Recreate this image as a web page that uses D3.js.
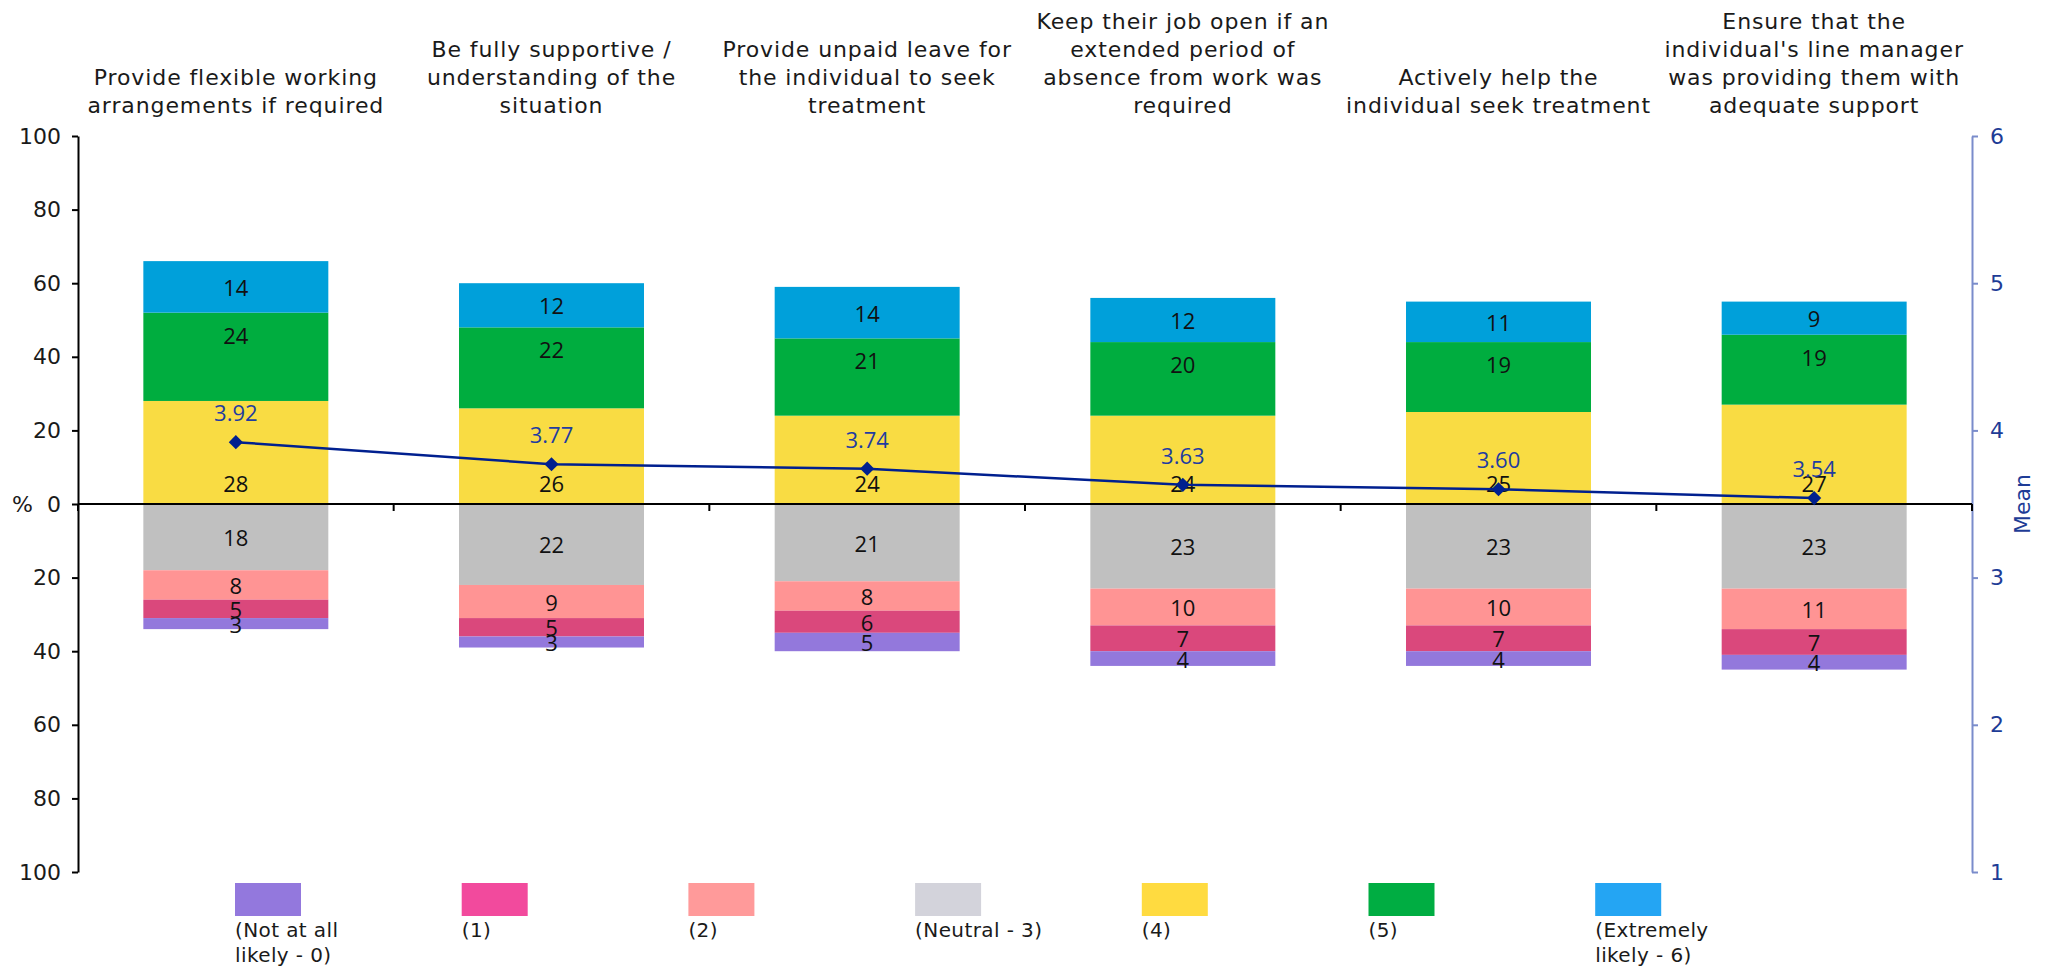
<!DOCTYPE html>
<html>
<head>
<meta charset="utf-8">
<script src="https://cdn.jsdelivr.net/npm/d3@7"></script>
<style>
  html, body { margin: 0; padding: 0; background: #ffffff; }
  svg { display: block; }
</style>
</head>
<body>
<svg id="chart" width="2045" height="968"></svg>
<script>
// Likelihood of each employer action (percent of respondents, 0–6 scale) and mean score
const categories = [
  "Provide flexible working\narrangements if required",
  "Be fully supportive /\nunderstanding of the\nsituation",
  "Provide unpaid leave for\nthe individual to seek\ntreatment",
  "Keep their job open if an\nextended period of\nabsence from work was\nrequired",
  "Actively help the\nindividual seek treatment",
  "Ensure that the\nindividual's line manager\nwas providing them with\nadequate support"
];

// Below zero (stacked downward from the axis)
const neutral3   = [18, 22, 21, 23, 23, 23];
const score2     = [8, 9, 8, 10, 10, 11];
const score1     = [5, 5, 6, 7, 7, 7];
const notLikely0 = [3, 3, 5, 4, 4, 4];
// Above zero (stacked upward from the axis)
const score4     = [28, 26, 24, 24, 25, 27];
const score5     = [24, 22, 21, 20, 19, 19];
const extremely6 = [14, 12, 14, 12, 11, 9];

const means = [3.92, 3.77, 3.74, 3.63, 3.60, 3.54];

const pctTicks  = [-100, -80, -60, -40, -20, 0, 20, 40, 60, 80, 100];
const meanTicks = [1, 2, 3, 4, 5, 6];

const legendLabels = [
  "(Not at all\nlikely - 0)", "(1)", "(2)", "(Neutral - 3)", "(4)", "(5)", "(Extremely\nlikely - 6)"
];

// ---- styling ----
const barColors = {
  notLikely0: "#9378dc", score1: "#da487c", score2: "#ff9494", neutral3: "#c0c0c0",
  score4: "#f9dc43", score5: "#00ad3f", extremely6: "#00a0da"
};
const legendColors = ["#9378dd", "#f24a9d", "#ff9a9a", "#d3d3db", "#ffdb40", "#00ad42", "#24a5f3"];
const lineColor = "#00208f";
const meanTextColor = "#1f3ca0";
const rightAxisColor = "#7a8ccb";
const verdanaLike = "'DejaVu Sans', Verdana, sans-serif";
const labelFont = "'Open Sans', 'Noto Sans', sans-serif";

const svg = d3.select("#chart");

const x = d3.scaleBand()
  .domain(d3.range(categories.length))
  .range([78, 1972])
  .paddingInner(0.414)
  .paddingOuter(0.207);

const y = d3.scaleLinear().domain([-100, 100]).range([872, 136]);
const yMean = d3.scaleLinear().domain([1, 6]).range([872, 136]);

// Build stacked segments: negative stack goes down from 0, positive stack goes up from 0
const negSeries = [
  { key: "neutral3", values: neutral3, place: "center" },
  { key: "score2", values: score2, place: "center" },
  { key: "score1", values: score1, place: "center" },
  { key: "notLikely0", values: notLikely0, place: "center" }
];
const posSeries = [
  { key: "score4", values: score4, place: "base" },
  { key: "score5", values: score5, place: "end" },
  { key: "extremely6", values: extremely6, place: "center" }
];

const segments = [];
categories.forEach((c, i) => {
  let acc = 0;
  negSeries.forEach(s => {
    const v = s.values[i];
    segments.push({ i, key: s.key, v, y0: -acc, y1: -(acc + v), place: s.place });
    acc += v;
  });
  acc = 0;
  posSeries.forEach(s => {
    const v = s.values[i];
    segments.push({ i, key: s.key, v, y0: acc, y1: acc + v, place: s.place });
    acc += v;
  });
});

// Bars
svg.append("g").selectAll("rect")
  .data(segments)
  .join("rect")
  .attr("x", d => x(d.i))
  .attr("width", x.bandwidth())
  .attr("y", d => Math.min(y(d.y0), y(d.y1)))
  .attr("height", d => Math.abs(y(d.y0) - y(d.y1)))
  .attr("fill", d => barColors[d.key]);

// Segment value labels
function labelY(d) {
  const dir = d.y1 > d.y0 ? -1 : 1;   // screen direction from base to end
  if (d.place === "base") return y(d.y0) + dir * 21;
  if (d.place === "end") return y(d.y1) - dir * 22;
  return (y(d.y0) + y(d.y1)) / 2;
}
svg.append("g").selectAll("text")
  .data(segments)
  .join("text")
  .attr("x", d => x(d.i) + x.bandwidth() / 2)
  .attr("y", d => labelY(d))
  .attr("text-anchor", "middle")
  .attr("dominant-baseline", "central")
  .attr("font-family", labelFont)
  .attr("font-size", 22)
  .attr("fill", "#111")
  .text(d => d.v);

// Left percentage axis
const leftAxis = svg.append("g")
  .attr("transform", "translate(78,0)")
  .call(d3.axisLeft(y).tickValues(pctTicks).tickFormat(d => Math.abs(d))
    .tickSize(6).tickSizeOuter(0).tickPadding(11));
leftAxis.select(".domain").attr("stroke", "#000").attr("stroke-width", 2);
leftAxis.selectAll(".tick line").attr("stroke", "#000").attr("stroke-width", 2);
leftAxis.selectAll(".tick text")
  .attr("font-family", verdanaLike).attr("font-size", 22).attr("fill", "#1a1a1a");

svg.append("text")
  .attr("x", 12).attr("y", y(0))
  .attr("dominant-baseline", "central")
  .attr("font-family", verdanaLike).attr("font-size", 22).attr("fill", "#1a1a1a")
  .text("%");

// Right mean axis
const rightAxis = svg.append("g")
  .attr("transform", "translate(1972,0)")
  .call(d3.axisRight(yMean).tickValues(meanTicks).tickFormat(d3.format("d"))
    .tickSize(6).tickSizeOuter(0).tickPadding(12));
rightAxis.select(".domain").attr("stroke", rightAxisColor).attr("stroke-width", 2);
rightAxis.selectAll(".tick line").attr("stroke", rightAxisColor).attr("stroke-width", 2);
rightAxis.selectAll(".tick text")
  .attr("font-family", verdanaLike).attr("font-size", 22).attr("fill", "#1e3c96");

svg.append("text")
  .attr("transform", `translate(2022,${y(0)}) rotate(-90)`)
  .attr("text-anchor", "middle")
  .attr("dominant-baseline", "central")
  .attr("font-family", verdanaLike).attr("font-size", 22).attr("fill", "#1e3c96")
  .text("Mean");

// Zero baseline with category divider ticks
const zeroG = svg.append("g");
const [r0, r1] = x.range();
zeroG.append("line")
  .attr("x1", r0).attr("x2", r1)
  .attr("y1", y(0)).attr("y2", y(0))
  .attr("stroke", "#000").attr("stroke-width", 2);
const dividers = d3.range(categories.length + 1).map(k => r0 + k * x.step());
zeroG.selectAll("line.div")
  .data(dividers)
  .join("line")
  .attr("class", "div")
  .attr("x1", d => d).attr("x2", d => d)
  .attr("y1", y(0)).attr("y2", y(0) + 7)
  .attr("stroke", "#000").attr("stroke-width", 2);

// Mean line with diamond markers
const cx = i => x(i) + x.bandwidth() / 2;
svg.append("path")
  .datum(means)
  .attr("fill", "none")
  .attr("stroke", lineColor)
  .attr("stroke-width", 2.5)
  .attr("d", d3.line().x((d, i) => cx(i)).y(d => yMean(d)));

svg.append("g").selectAll("path")
  .data(means)
  .join("path")
  .attr("transform", (d, i) => `translate(${cx(i)},${yMean(d)}) rotate(45)`)
  .attr("d", d3.symbol().type(d3.symbolSquare).size(100))
  .attr("fill", lineColor);

svg.append("g").selectAll("text")
  .data(means)
  .join("text")
  .attr("x", (d, i) => cx(i))
  .attr("y", d => yMean(d) - 30)
  .attr("text-anchor", "middle")
  .attr("dominant-baseline", "central")
  .attr("font-family", labelFont)
  .attr("font-size", 22)
  .attr("fill", meanTextColor)
  .text(d => d3.format(".2f")(d));

// Category titles, bottom-aligned above the plot
const titleG = svg.append("g");
categories.forEach((c, i) => {
  const lines = c.split("\n");
  const t = titleG.append("text")
    .attr("text-anchor", "middle")
    .attr("font-family", verdanaLike)
    .attr("font-size", 22)
    .attr("letter-spacing", 0.9)
    .attr("fill", "#1a1a1a");
  lines.forEach((ln, k) => {
    t.append("tspan")
      .attr("x", cx(i))
      .attr("y", 113 - (lines.length - 1 - k) * 28)
      .text(ln);
  });
});

// Legend
const legendG = svg.append("g");
legendLabels.forEach((lab, k) => {
  const lx = 235 + k * 226.7;
  legendG.append("rect")
    .attr("x", lx).attr("y", 883)
    .attr("width", 66).attr("height", 33)
    .attr("fill", legendColors[k]);
  const t = legendG.append("text")
    .attr("font-family", verdanaLike)
    .attr("font-size", 20)
    .attr("letter-spacing", 0.4)
    .attr("fill", "#1a1a1a");
  lab.split("\n").forEach((ln, j) => {
    t.append("tspan").attr("x", lx).attr("y", 937 + j * 25).text(ln);
  });
});
</script>
</body>
</html>
